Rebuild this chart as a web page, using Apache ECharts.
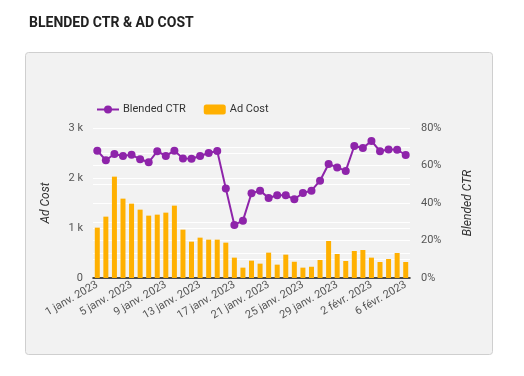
<!DOCTYPE html>
<html>
<head>
<meta charset="utf-8">
<script src="https://cdn.jsdelivr.net/npm/echarts@6/dist/echarts.min.js"></script>
<style>
html,body{margin:0;padding:0;background:#fff;}
#main{width:524px;height:376px;}
</style>
</head>
<body>
<div id="main"></div>
<script>
const categories = [
  "1 janv. 2023","2 janv. 2023","3 janv. 2023","4 janv. 2023","5 janv. 2023","6 janv. 2023","7 janv. 2023","8 janv. 2023",
  "9 janv. 2023","10 janv. 2023","11 janv. 2023","12 janv. 2023","13 janv. 2023","14 janv. 2023","15 janv. 2023","16 janv. 2023",
  "17 janv. 2023","18 janv. 2023","19 janv. 2023","20 janv. 2023","21 janv. 2023","22 janv. 2023","23 janv. 2023","24 janv. 2023",
  "25 janv. 2023","26 janv. 2023","27 janv. 2023","28 janv. 2023","29 janv. 2023","30 janv. 2023","31 janv. 2023",
  "1 févr. 2023","2 févr. 2023","3 févr. 2023","4 févr. 2023","5 févr. 2023","6 févr. 2023"
];
const adCost = [1007,1227,2027,1587,1487,1367,1247,1267,1307,1447,967,727,807,767,767,707,407,207,347,287,507,267,467,
  325,207,225,360,740,480,340,540,560,407,320,380,500,320];
const blendedCtr = [67.9,62.8,66.1,65.1,65.8,63.3,61.7,67.6,65.1,67.9,63.8,63.6,65.1,66.7,67.7,47.8,28.3,30.6,45.2,46.6,42.7,44.1,44.1,
  42.0,45.3,46.6,51.9,60.8,59.0,57.1,70.4,69.3,73.1,67.6,68.6,68.4,65.6];

const chart = echarts.init(document.getElementById('main'), null, {renderer:'canvas'});
const font = 'Roboto, "Noto Sans", sans-serif';
chart.setOption({
  backgroundColor:'#ffffff',
  textStyle:{fontFamily:font},
  animation:false,
  graphic:[{
    type:'rect', z:-10, silent:true,
    shape:{x:25.5,y:52.5,width:467,height:302,r:3},
    style:{fill:'#f2f2f2',stroke:'#cfcfcf',lineWidth:1}
  }],
  title:{
    text:'BLENDED CTR & AD COST', left:24, top:11,
    textStyle:{fontFamily:font,fontSize:14,fontWeight:'bold',color:'#212121'}
  },
  legend:{
    left:91, top:99, itemWidth:22, itemHeight:10, itemGap:18,
    textStyle:{fontFamily:font,fontSize:11,color:'#333',padding:[0,0,0,-1]},
    data:['Blended CTR','Ad Cost']
  },
  grid:{left:93,right:114,top:128,bottom:98,containLabel:false},
  xAxis:{
    type:'category', data:categories,
    axisTick:{show:false},
    axisLine:{lineStyle:{color:'#111',width:1.5}},
    axisLabel:{interval:3,rotate:30,fontSize:11,color:'#555',margin:6,fontFamily:font},
    splitLine:{show:false}
  },
  yAxis:[{
    type:'value', min:0, max:3000, interval:500,
    name:'Ad Cost', nameLocation:'middle', nameRotate:90, nameGap:41,
    nameTextStyle:{fontStyle:'italic',fontSize:12,color:'#333',fontFamily:font},
    axisLine:{show:false}, axisTick:{show:false},
    axisLabel:{fontSize:11,color:'#555',margin:10,fontFamily:font,
      formatter:function(v){ if(v%1000!==0) return ''; return v===0?'0':(v/1000)+' k'; }},
    splitLine:{lineStyle:{color:'#ffffff',width:1}}
  },{
    type:'value', min:0, max:80, interval:10,
    name:'Blended CTR', nameLocation:'middle', nameRotate:90, nameGap:52,
    nameTextStyle:{fontStyle:'italic',fontSize:12,color:'#333',fontFamily:font},
    axisLine:{show:false}, axisTick:{show:false},
    axisLabel:{fontSize:11,color:'#555',margin:11,fontFamily:font,
      formatter:function(v){ return v%20===0 ? v+'%' : ''; }},
    splitLine:{lineStyle:{color:'#ffffff',width:1}}
  }],
  series:[{
    name:'Ad Cost', type:'bar', yAxisIndex:0, data:adCost,
    barWidth:5, itemStyle:{color:'#ffb000'}, z:2
  },{
    name:'Blended CTR', type:'line', yAxisIndex:1, data:blendedCtr,
    symbol:'circle', symbolSize:8, showSymbol:true, showAllSymbol:true,
    lineStyle:{color:'#8e24aa',width:2},
    itemStyle:{color:'#8e24aa'}, z:3
  }]
});
</script>
</body>
</html>
